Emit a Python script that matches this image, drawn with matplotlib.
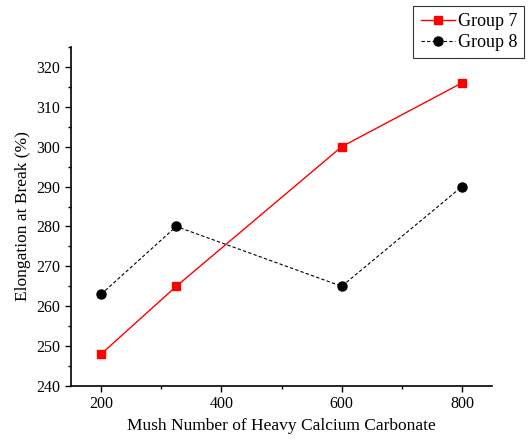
import matplotlib
matplotlib.use('Agg')
import matplotlib.pyplot as plt
from matplotlib.ticker import MultipleLocator

plt.rcParams['font.family'] = ['Liberation Serif', 'DejaVu Serif']

mesh = [200, 325, 600, 800]
group7 = [248, 265, 300, 316]
group8 = [263, 280, 265, 290]

fig = plt.figure(figsize=(5.28, 4.42), dpi=100)
ax = fig.add_axes([0.1345, 0.1267, 0.7975, 0.767])

ax.plot(mesh, group7, color='#ff0000', lw=1, marker='s', markersize=6,
        label='Group 7')
ax.plot(mesh, group8, color='black', lw=0.8, ls='--', dashes=(3, 2),
        marker='o', markersize=6.5, label='Group 8')

ax.set_xlim(150, 850)
ax.set_ylim(240, 325)
ax.xaxis.set_major_locator(MultipleLocator(200))
ax.xaxis.set_minor_locator(MultipleLocator(100))
ax.yaxis.set_major_locator(MultipleLocator(10))
ax.yaxis.set_minor_locator(MultipleLocator(5))
ax.tick_params(which='major', direction='out', length=4, width=1,
               labelsize=11.5)
ax.tick_params(which='minor', direction='out', length=2.5, width=1)

for s in ['top', 'right']:
    ax.spines[s].set_visible(False)
for s in ['left', 'bottom']:
    ax.spines[s].set_linewidth(1.2)

ax.set_xlabel('Mush Number of Heavy Calcium Carbonate', fontsize=12.5)
ax.set_ylabel('Elongation at Break (%)', fontsize=12.5)

leg = fig.legend(loc='upper right', bbox_to_anchor=(0.993, 0.986),
                 fontsize=13, frameon=True, fancybox=False,
                 edgecolor='black', handlelength=1.9, borderpad=0.4,
                 labelspacing=0.2, handletextpad=0.15, borderaxespad=0)
leg.get_frame().set_linewidth(0.8)

fig.savefig('out.png', dpi=100)
